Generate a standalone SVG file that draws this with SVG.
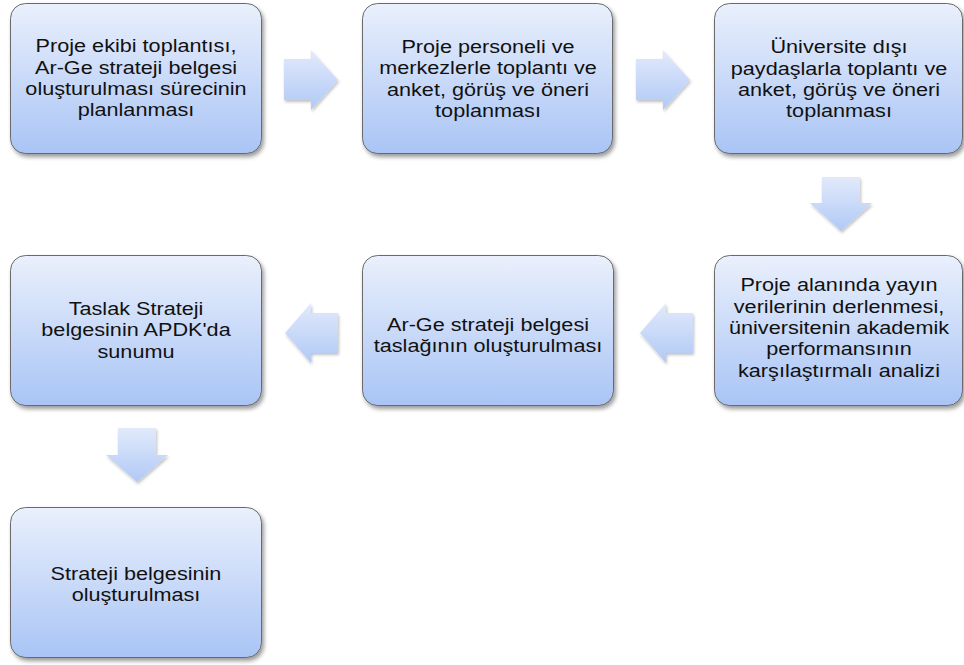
<svg xmlns="http://www.w3.org/2000/svg" width="964" height="665" viewBox="0 0 964 665">
<defs>
<linearGradient id="boxGrad" x1="0" y1="0" x2="0" y2="1">
<stop offset="0" stop-color="#eaf0fc"/>
<stop offset="1" stop-color="#a9c4f5"/>
</linearGradient>
<linearGradient id="arrGrad" x1="0" y1="0" x2="0" y2="1">
<stop offset="0" stop-color="#e2eafb"/>
<stop offset="1" stop-color="#b0c9f6"/>
</linearGradient>
<filter id="shadow" x="-10%" y="-10%" width="125%" height="130%">
<feDropShadow dx="2" dy="3" stdDeviation="2" flood-color="#000" flood-opacity="0.4"/>
</filter>
<filter id="ashadow" x="-20%" y="-20%" width="150%" height="150%">
<feDropShadow dx="1" dy="2" stdDeviation="1.5" flood-color="#000" flood-opacity="0.25"/>
</filter>
</defs>
<style>
.box{fill:url(#boxGrad);stroke:#6a6a6a;stroke-width:1;filter:url(#shadow)}
.arr{fill:url(#arrGrad);filter:url(#ashadow)}
text{font-family:"Liberation Sans",Arial,sans-serif;font-size:18.5px;fill:#111;text-anchor:middle}
</style>
<rect width="964" height="665" fill="#fff"/>
<g id="connectors">
<polygon class="arr" points="284,59 311,59 311,50 338,80 311,110 311,100 284,100"/>
<polygon class="arr" points="636,59 663,59 663,50 690,80 663,110 663,100 636,100"/>
<polygon class="arr" points="822,177 860,177 860,203 872,203 841,231 810,203 822,203"/>
<polygon class="arr" points="693,313 666,313 666,303 640,333 666,363 666,353 693,353"/>
<polygon class="arr" points="338,313 311,313 311,303 285,333 311,363 311,353 338,353"/>
<polygon class="arr" points="118,428 156,428 156,455 168,455 137,482 106,455 118,455"/>
</g>
<g id="n1">
<rect class="box" x="10.5" y="3.5" width="251" height="150" rx="15"/>
<text transform="translate(136,0) scale(1.17,1)" y="52.5"><tspan x="0">Proje ekibi toplantısı,</tspan><tspan x="0" dy="21.3">Ar-Ge strateji belgesi</tspan><tspan x="0" dy="21.3">oluşturulması sürecinin</tspan><tspan x="0" dy="21.3">planlanması</tspan></text>
</g>
<g id="n2">
<rect class="box" x="362.5" y="3.5" width="250" height="150" rx="15"/>
<text transform="translate(488,0) scale(1.17,1)" y="53"><tspan x="0">Proje personeli ve</tspan><tspan x="0" dy="21.3">merkezlerle toplantı ve</tspan><tspan x="0" dy="21.3">anket, görüş ve öneri</tspan><tspan x="0" dy="21.3">toplanması</tspan></text>
</g>
<g id="n3">
<rect class="box" x="714.5" y="3.5" width="248" height="150" rx="15"/>
<text transform="translate(839,0) scale(1.17,1)" y="53.5"><tspan x="0">Üniversite dışı</tspan><tspan x="0" dy="21.3">paydaşlarla toplantı ve</tspan><tspan x="0" dy="21.3">anket, görüş ve öneri</tspan><tspan x="0" dy="21.3">toplanması</tspan></text>
</g>
<g id="n4">
<rect class="box" x="714.5" y="255.5" width="248" height="150" rx="15"/>
<text transform="translate(839,0) scale(1.17,1)" y="291.5"><tspan x="0">Proje alanında yayın</tspan><tspan x="0" dy="21.3">verilerinin derlenmesi,</tspan><tspan x="0" dy="21.3">üniversitenin akademik</tspan><tspan x="0" dy="21.3">performansının</tspan><tspan x="0" dy="21.3">karşılaştırmalı analizi</tspan></text>
</g>
<g id="n5">
<rect class="box" x="362.5" y="255.5" width="251" height="150" rx="15"/>
<text transform="translate(488,0) scale(1.17,1)" y="331"><tspan x="0">Ar-Ge strateji belgesi</tspan><tspan x="0" dy="21.3">taslağının oluşturulması</tspan></text>
</g>
<g id="n6">
<rect class="box" x="10.5" y="255.5" width="251" height="150" rx="15"/>
<text transform="translate(136,0) scale(1.17,1)" y="315"><tspan x="0">Taslak Strateji</tspan><tspan x="0" dy="21.3">belgesinin APDK'da</tspan><tspan x="0" dy="21.3">sunumu</tspan></text>
</g>
<g id="n7">
<rect class="box" x="10.5" y="507.5" width="251" height="150" rx="15"/>
<text transform="translate(136,0) scale(1.17,1)" y="580"><tspan x="0">Strateji belgesinin</tspan><tspan x="0" dy="21.3">oluşturulması</tspan></text>
</g>
</svg>
